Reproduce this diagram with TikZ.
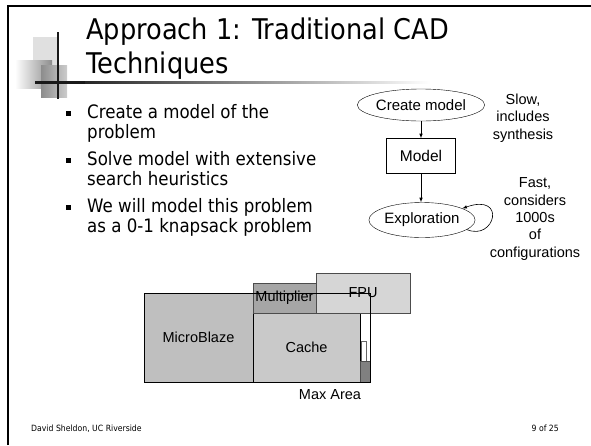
\documentclass[tikz,border=0pt]{standalone}
\usepackage{fontspec}
\setmainfont[FakeStretch=0.9]{DejaVu Sans}
\newfontfamily\arialfont{Liberation Sans}
\usetikzlibrary{shapes.geometric, arrows}
\colorlet{blaze area}{black!25}
\colorlet{cache area}{black!21}
\colorlet{mult area}{black!35}
\colorlet{fpu area}{black!16}
\colorlet{spare area}{black!50}
\colorlet{block edge}{black!70}
\tikzset{
  block/.style={draw=block edge, line width=0.8pt},
  blocklabel/.style={font=\arialfont\fontsize{14.5}{17}\selectfont},
  flowell/.style={draw, ellipse, inner sep=0pt, font=\arialfont\fontsize{15}{17}\selectfont},
  flowbox/.style={draw, rectangle, inner sep=0pt, minimum width=69pt, minimum height=35pt,
    font=\arialfont\fontsize{15.5}{17}\selectfont},
  note/.style={align=center, inner sep=0pt, font=\arialfont\fontsize{14.5}{17.3}\selectfont},
  bulletmark/.style={fill, inner sep=0pt, minimum size=5pt},
  itemtext/.style={anchor=base west, align=left, inner sep=0pt, font=\fontsize{18.5}{20}\selectfont},
  footer/.style={inner sep=0pt, font=\fontsize{8.6}{10}\selectfont},
  edge/.style={->, >=latex, line width=0.6pt}
}
\begin{document}
\begin{tikzpicture}[x=1pt, y=-1pt]
    \useasboundingbox (0,0) rectangle (591,445);
    % slide frame
    \draw[line width=2.5pt] (8,445) -- (8,6) -- (591,6);
    % title decoration
    \fill[black!12] (33,37) rectangle (57,65);
    \shade[left color=white, right color=black!45] (15,60) rectangle (52,88);
    \shade[left color=black!45, right color=black!20] (41,65) rectangle (67,97);
    \draw[line width=2.5pt, black!90] (58,32) -- (58,99);
    \draw[line width=2.5pt, black!90] (35,82.5) -- (85,82.5);
    \shade[left color=black!85, right color=white] (85,81.3) rectangle (430,83.7);
    % title (base is the last line)
    \node[anchor=base west, align=left, inner sep=0pt, font=\fontsize{28.5}{34}\selectfont]
      (title) at (86,73) {Approach 1: Traditional CAD\\Techniques};
    % bullets
    \node[bulletmark] (b1) at (68.5,113) {};
    \node[itemtext] (t1) at (87,138) {Create a model of the\\problem};
    \node[bulletmark] (b2) at (68.5,160) {};
    \node[itemtext] (t2) at (87,185) {Solve model with extensive\\search heuristics};
    \node[bulletmark] (b3) at (68.5,207) {};
    \node[itemtext] (t3) at (87,232) {We will model this problem\\as a 0-1 knapsack problem};
    % flow
    \node[flowell, minimum width=100pt, minimum height=32pt] (create) at (421,105) {Create model};
    \node[flowbox] (model) at (421,156) {Model};
    \node[flowell, minimum width=103pt, minimum height=35pt] (explore) at (422,220) {Exploration};
    \draw[edge] (create.south) -- (model.north);
    \draw[edge] (model.south) -- (explore.north -| model.south);
    \draw[edge] (explore.-12) .. controls +(28,12) and +(45,-16) .. (explore.16);
    \node[note] (slow) at (523,118) {Slow,\\includes\\synthesis};
    \node[note] (fast) at (535,219) {Fast,\\considers\\1000s\\of\\configurations};
    % area blocks
    \draw[block, fill=blaze area] (144,293) rectangle node[blocklabel] (blaze) {MicroBlaze} (253,382);
    \draw[block, fill=cache area, draw=black] (253,313) rectangle node[blocklabel] (cache) {Cache} (360,382);
    \draw[block, fill=mult area] (253,283) rectangle node[blocklabel] (mult) {Multiplier} (316,313);
    \draw[block, fill=fpu area] (316,273) rectangle node[blocklabel] (fpu) {FPU} (410,313);
    \draw[block, fill=white, draw=black!60, line width=0.5pt] (361,341) rectangle (366,361);
    \draw[block, fill=spare area] (360,361) rectangle (370,382);
    \draw[line width=0.9pt] (144,293) rectangle (370,382);
    \node[blocklabel] (maxarea) at (330,395) {Max Area};
    % footer
    \node[footer, anchor=base west] (author) at (31,431) {David Sheldon, UC Riverside};
    \node[footer, anchor=base east] (page) at (559,431) {9 of 25};
  \end{tikzpicture}
\end{document}
